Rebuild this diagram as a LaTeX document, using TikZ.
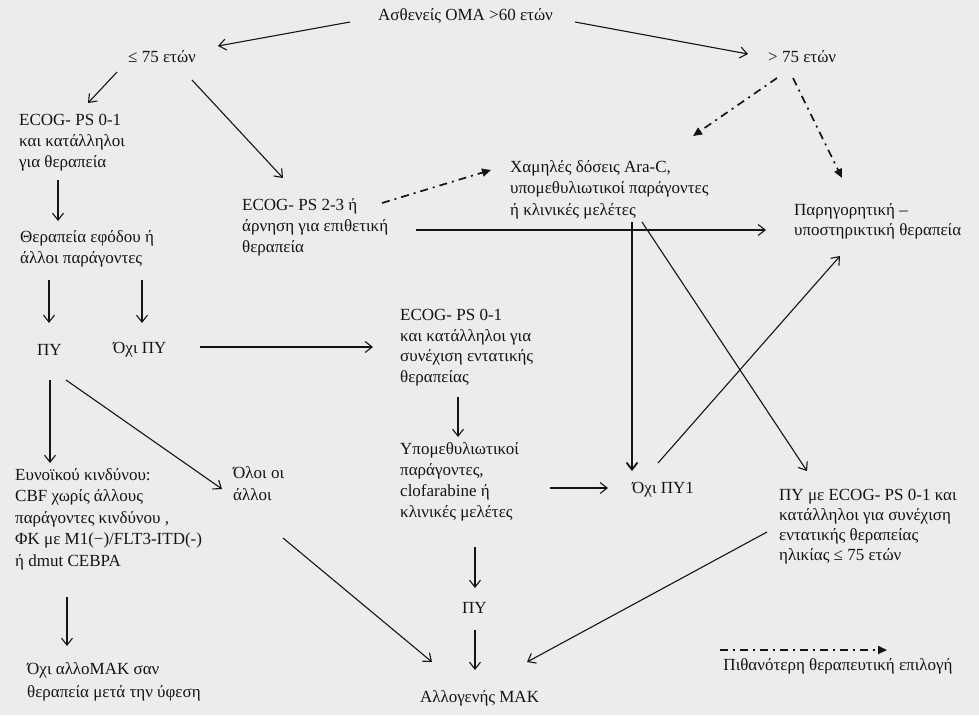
\documentclass[tikz,border=0pt]{standalone}
\usepackage{fontspec}
\setmainfont{Liberation Serif}
\usetikzlibrary{arrows.meta}
\definecolor{bg}{RGB}{236,236,238}
\definecolor{ink}{RGB}{20,20,20}
\newcommand{\fs}[1]{\fontsize{17}{#1}\selectfont}
\tikzset{
  txt/.style={anchor=west, inner sep=0pt, align=left, text=ink, font=\fs{21}},
  arr/.style={-{Straight Barb[length=7pt,width=11pt]}, line width=1.1pt, draw=ink},
  thickarr/.style={arr, line width=1.8pt},
  dd/.style={-{Triangle[length=9pt,width=8pt]}, line width=1.7pt, draw=ink, dash pattern=on 8pt off 5pt on 2pt off 5pt},
}
\begin{document}
\begin{tikzpicture}[x=1pt,y=-1pt]
\fill[bg] (0,0) rectangle (979,715);
\useasboundingbox (0,0) rectangle (979,715);

% nodes
\node[txt] (title) at (378,16) {Ασθενείς ΟΜΑ >60 ετών};
\node[txt] (le75) at (128,57) {≤ 75 ετών};
\node[txt] (gt75) at (768,57) {> 75 ετών};
\node[txt] (ecog01) at (19,143) {ECOG- PS 0-1\\και κατάλληλοι\\για θεραπεία};
\node[txt] (induct) at (20,248.5) {Θεραπεία εφόδου ή\\άλλοι παράγοντες};
\node[txt] (ecog23) at (242,227) {ECOG- PS 2-3 ή\\άρνηση για επιθετική\\θεραπεία};
\node[txt, font=\fs{21.5}] (lowdose) at (510,189.5) {Χαμηλές δόσεις Ara-C,\\υπομεθυλιωτικοί παράγοντες\\ή κλινικές μελέτες};
\node[txt, font=\fs{20}] (pall) at (794,221) {Παρηγορητική –\\υποστηρικτική θεραπεία};
\node[txt] (cr) at (37,350) {ΠΥ};
\node[txt] (nocr) at (113,350) {Όχι ΠΥ};
\node[txt, font=\fs{20.5}] (ecog01b) at (400,347.5) {ECOG- PS 0-1\\και κατάλληλοι για\\συνέχιση εντατικής\\θεραπείας};
\node[txt] (hypo) at (400,481.5) {Υπομεθυλιωτικοί\\παράγοντες,\\clofarabine ή\\κλινικές μελέτες};
\node[txt] (nocr1) at (632,490) {Όχι ΠΥ1};
\node[txt, font=\fs{20}] (crecog) at (779,526.5) {ΠΥ με ECOG- PS 0-1 και\\κατάλληλοι για  συνέχιση\\εντατικής θεραπείας\\ηλικίας  ≤ 75 ετών};
\node[txt, font=\fs{21.5}] (fav) at (15,519) {Ευνοϊκού κινδύνου:\\CBF  χωρίς άλλους\\παράγοντες κινδύνου ,\\ΦΚ με  M1(−)/FLT3-ITD(-)\\ή dmut CEBPA};
\node[txt, font=\fs{22}] (others) at (233,484) {Όλοι οι\\άλλοι};
\node[txt] (crb) at (462,608) {ΠΥ};
\node[txt, font=\fs{23}] (noallo) at (27,681.5) {Όχι αλλοΜΑΚ σαν\\θεραπεία μετά την ύφεση};
\node[txt] (allo) at (420,698) {Αλλογενής ΜΑΚ};
\node[txt, anchor=center] (legend) at (838,666) {Πιθανότερη θεραπευτική επιλογή};

% connector end points
\coordinate (a1s) at (350,22);  \coordinate (a1e) at (218,46);
\coordinate (a2s) at (575,22);  \coordinate (a2e) at (748,54);
\coordinate (a3s) at (117,72);  \coordinate (a3e) at (88,103);
\coordinate (a4s) at (192,80);  \coordinate (a4e) at (283,178);
\coordinate (a5s) at (58,180);  \coordinate (a5e) at (58,221);
\coordinate (a6s) at (49,280);  \coordinate (a6e) at (49,323);
\coordinate (a7s) at (142,280); \coordinate (a7e) at (142,323);
\coordinate (a8s) at (200,347); \coordinate (a8e) at (373,347);
\coordinate (a9s) at (50,380);  \coordinate (a9e) at (50,463);
\coordinate (a10s) at (66,380); \coordinate (a10e) at (222,489);
\coordinate (d1s) at (382,203); \coordinate (d1e) at (491,170);
\coordinate (d2s) at (777,78);  \coordinate (d2e) at (693,136);
\coordinate (d3s) at (793,78);  \coordinate (d3e) at (842,178);
\coordinate (a11s) at (416,230); \coordinate (a11e) at (766,230);
\coordinate (a12s) at (632,222); \coordinate (a12e) at (632,471);
\coordinate (a13s) at (642,222); \coordinate (a13e) at (807,471);
\coordinate (a14s) at (658,463); \coordinate (a14e) at (840,256);
\coordinate (a15s) at (458,397); \coordinate (a15e) at (458,437);
\coordinate (a16s) at (550,488); \coordinate (a16e) at (608,488);
\coordinate (a17s) at (475,547); \coordinate (a17e) at (475,588);
\coordinate (a18s) at (475,630); \coordinate (a18e) at (475,670);
\coordinate (a19s) at (283,538); \coordinate (a19e) at (432,662);
\coordinate (a20s) at (767,532); \coordinate (a20e) at (527,662);
\coordinate (a21s) at (67,597);  \coordinate (a21e) at (67,646);
\coordinate (ls) at (720,650);   \coordinate (le) at (887,650);

% connectors
\draw[arr] (a1s) -- (a1e);
\draw[arr] (a2s) -- (a2e);
\draw[arr] (a3s) -- (a3e);
\draw[arr] (a4s) -- (a4e);
\draw[arr] (a5s) -- (a5e);
\draw[arr] (a6s) -- (a6e);
\draw[arr] (a7s) -- (a7e);
\draw[arr] (a8s) -- (a8e);
\draw[arr] (a9s) -- (a9e);
\draw[arr] (a10s) -- (a10e);
\draw[dd] (d1s) -- (d1e);
\draw[dd] (d2s) -- (d2e);
\draw[dd] (d3s) -- (d3e);
\draw[arr] (a11s) -- (a11e);
\draw[thickarr] (a12s) -- (a12e);
\draw[arr] (a13s) -- (a13e);
\draw[arr] (a14s) -- (a14e);
\draw[arr] (a15s) -- (a15e);
\draw[arr] (a16s) -- (a16e);
\draw[arr] (a17s) -- (a17e);
\draw[arr] (a18s) -- (a18e);
\draw[arr] (a19s) -- (a19e);
\draw[arr] (a20s) -- (a20e);
\draw[arr] (a21s) -- (a21e);
\draw[dd] (ls) -- (le);
\end{tikzpicture}
\end{document}
